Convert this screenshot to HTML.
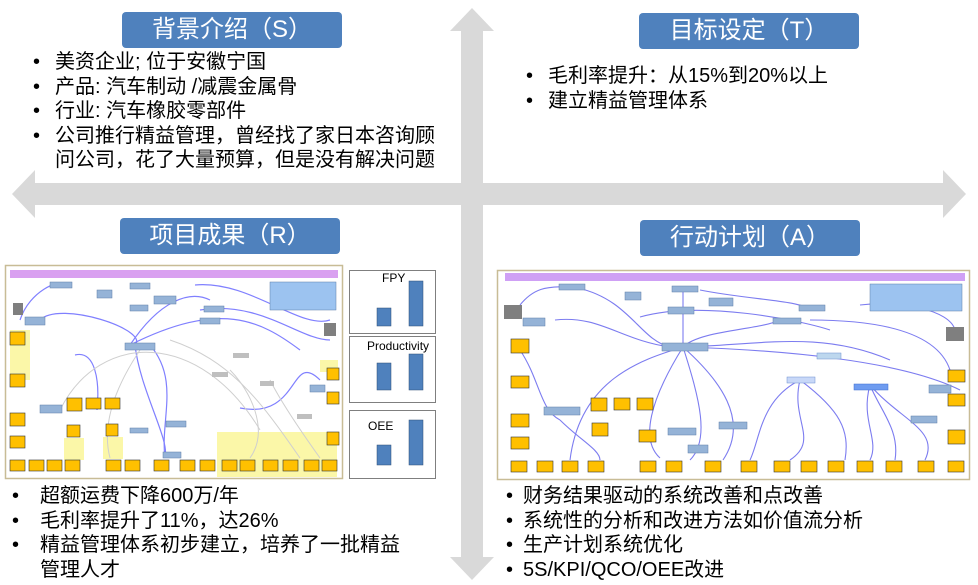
<!DOCTYPE html>
<html><head><meta charset="utf-8"><style>
body{margin:0;width:978px;height:585px;background:#fff;position:relative;overflow:hidden;font-family:"Liberation Sans","Noto Sans CJK SC",sans-serif;}
.t{position:absolute;background:#4f81bd;color:#fff;border-radius:4px;font-size:24px;text-align:center;line-height:36px;height:36px;width:220px;}
.b{position:absolute;font-size:20px;color:#000;line-height:24.5px;white-space:nowrap}
.b div{position:relative;padding-left:22px}
.b div:before{content:"•";position:absolute;left:0}
</style></head><body>
<svg width="978" height="585" style="position:absolute;left:0;top:0">
<polygon fill="#d9d9d9" points="472,8 494,31 483,31 483,183 943,183 943,170 966,194 943,218 943,205 483,205 483,557 494,557 472,580 450,557 461,557 461,205 35,205 35,218 12,194 35,170 35,183 461,183 461,31 450,31"/>
</svg>
<div class="t" style="left:122px;top:12px">背景介绍（S）</div>
<div class="t" style="left:639px;top:13px">目标设定（T）</div>
<div class="t" style="left:120px;top:218px">项目成果（R）</div>
<div class="t" style="left:640px;top:220px">行动计划（A）</div>
<div class="b" style="left:33px;top:50px"><div>美资企业; 位于安徽宁国</div><div>产品: 汽车制动 /减震金属骨</div><div>行业: 汽车橡胶零部件</div><div>公司推行精益管理，曾经找了家日本咨询顾<br>问公司，花了大量预算，但是没有解决问题</div></div>
<div class="b" style="left:526px;top:64px"><div>毛利率提升：从15%到20%以上</div><div>建立精益管理体系</div></div>
<div class="b" style="left:12px;top:484px"><div style="padding-left:28px">超额运费下降600万/年</div><div style="padding-left:28px">毛利率提升了11%，达26%</div><div style="padding-left:28px">精益管理体系初步建立，培养了一批精益<br>管理人才</div></div>
<div class="b" style="left:506px;top:484px"><div style="padding-left:17px">财务结果驱动的系统改善和点改善</div><div style="padding-left:17px">系统性的分析和改进方法如价值流分析</div><div style="padding-left:17px">生产计划系统优化</div><div style="padding-left:17px">5S/KPI/QCO/OEE改进</div></div>

<svg width="978" height="585" style="position:absolute;left:0;top:0" font-family="Liberation Sans">
<rect x="5.5" y="265.5" width="337" height="213" fill="#fff" stroke="#c8bc96" stroke-width="1.5"/>
<rect x="10" y="270" width="328" height="8" fill="#d9a0f0"/>
<rect x="10" y="330" width="20" height="50" fill="#fbf7a8"/>
<rect x="64" y="438" width="20" height="22" fill="#fbf7a8"/>
<rect x="103" y="437" width="20" height="22" fill="#fbf7a8"/>
<rect x="217" y="432" width="120" height="45" fill="#fbf7a8"/>
<rect x="320" y="360" width="18" height="12" fill="#fbf7a8"/>
<g fill="none" stroke="#8080ff" stroke-width="1.2">
<path d="M20 320 C30 290 60 280 60 285"/><path d="M130 345 C160 300 190 290 210 300"/><path d="M130 345 C220 300 260 320 300 350"/>
<path d="M40 320 C60 300 150 330 135 345"/><path d="M150 345 C180 380 160 420 165 458"/><path d="M75 355 C95 350 100 380 97 410"/>
<path d="M200 310 C260 300 300 340 330 340"/><path d="M320 380 C290 350 300 420 240 408"/><path d="M135 345 C140 390 170 440 165 457"/>
<path d="M195 285 C250 280 300 330 330 320"/>
</g>
<g fill="none" stroke="#cfcfcf" stroke-width="1">
<path d="M60 410 C100 330 200 330 260 430"/><path d="M170 340 C230 360 260 400 300 458"/><path d="M140 350 C120 380 100 420 110 458"/>
<path d="M230 370 C250 390 270 430 250 458"/><path d="M270 380 C280 400 300 430 320 458"/>
</g>
<g fill="#95b3d7" stroke="#5f7fa8" stroke-width="0.5">
<rect x="50" y="282" width="22" height="6"/><rect x="97" y="290" width="15" height="8"/><rect x="130" y="283" width="20" height="6"/>
<rect x="154" y="296" width="22" height="8"/><rect x="130" y="305" width="18" height="6"/><rect x="204" y="306" width="20" height="6"/>
<rect x="25" y="317" width="20" height="8"/><rect x="125" y="343" width="30" height="7"/><rect x="40" y="405" width="22" height="8"/>
<rect x="130" y="428" width="18" height="5"/><rect x="166" y="421" width="20" height="6"/><rect x="163" y="452" width="18" height="6"/>
<rect x="200" y="318" width="20" height="6"/><rect x="310" y="385" width="15" height="7"/>
</g>
<rect x="270" y="282" width="66" height="28" fill="#9cc3f0" stroke="#5f7fa8" stroke-width="0.5"/>
<g fill="#bfbfbf"><rect x="233" y="353" width="16" height="5"/><rect x="212" y="372" width="16" height="5"/><rect x="260" y="381" width="14" height="5"/><rect x="297" y="414" width="15" height="5"/></g>
<g fill="#7f7f7f"><rect x="13" y="303" width="10" height="12"/><rect x="324" y="323" width="12" height="13"/></g>
<g fill="#ffc000" stroke="#333" stroke-width="0.6">
<rect x="10" y="332" width="15" height="13"/><rect x="10" y="374" width="15" height="13"/><rect x="10" y="413" width="15" height="13"/><rect x="10" y="436" width="15" height="12"/>
<rect x="67" y="398" width="15" height="13"/><rect x="86" y="398" width="15" height="11"/><rect x="105" y="398" width="15" height="11"/>
<rect x="67" y="425" width="13" height="12"/><rect x="106" y="424" width="12" height="12"/><rect x="327" y="368" width="12" height="12"/><rect x="327" y="392" width="12" height="12"/><rect x="327" y="432" width="12" height="13"/>
<rect x="10" y="460" width="15" height="11"/><rect x="29" y="460" width="15" height="11"/><rect x="47" y="460" width="15" height="11"/><rect x="65" y="460" width="15" height="11"/>
<rect x="106" y="460" width="15" height="11"/><rect x="125" y="460" width="15" height="11"/><rect x="154" y="460" width="15" height="11"/><rect x="180" y="460" width="15" height="11"/>
<rect x="200" y="460" width="15" height="11"/><rect x="222" y="460" width="15" height="11"/><rect x="240" y="460" width="15" height="11"/><rect x="263" y="460" width="15" height="11"/>
<rect x="283" y="460" width="15" height="11"/><rect x="304" y="460" width="15" height="11"/><rect x="322" y="460" width="15" height="11"/>
</g>
<g stroke="#7f7f7f" fill="#fff"><rect x="349.5" y="270.5" width="86" height="63"/><rect x="349.5" y="336.5" width="86" height="66"/><rect x="349.5" y="410.5" width="86" height="68"/></g>
<g fill="#4f81bd" stroke="#2c4d75" stroke-width="0.5">
<rect x="377" y="308" width="14" height="18"/><rect x="409" y="281" width="14" height="45"/>
<rect x="377" y="363" width="14" height="27"/><rect x="409" y="354" width="14" height="36"/>
<rect x="377" y="445" width="14" height="20"/><rect x="409" y="420" width="14" height="45"/>
</g>
<g font-size="12"><text x="382" y="282">FPY</text><text x="367" y="350">Productivity</text><text x="368" y="430">OEE</text></g>
<rect x="497.5" y="270.5" width="472" height="209" fill="#fff" stroke="#c8bc96" stroke-width="1.5"/>
<rect x="505" y="273" width="460" height="8" fill="#cfa0f5"/>
<g fill="none" stroke="#7c7cf0" stroke-width="1.1">
<path d="M520 305 C540 280 560 290 575 285"/><path d="M578 288 C630 300 640 340 670 347"/><path d="M555 320 C600 315 620 340 670 347"/>
<path d="M683 288 L683 347"/><path d="M683 347 C640 360 580 380 570 460"/><path d="M683 347 C720 380 750 420 723 460"/>
<path d="M683 347 C700 330 760 330 780 320"/><path d="M683 347 C760 345 820 330 890 360"/><path d="M683 347 C780 350 900 360 960 390"/>
<path d="M800 380 C760 400 760 440 750 460"/><path d="M800 380 C790 420 820 440 790 460"/><path d="M800 380 C840 410 850 430 845 460"/>
<path d="M870 385 C860 420 880 440 870 460"/><path d="M870 385 C900 420 940 430 925 460"/><path d="M870 385 C880 410 900 430 895 460"/>
<path d="M520 350 C540 380 540 410 560 420"/><path d="M560 420 C580 440 600 450 600 460"/><path d="M640 317 C700 300 800 320 830 330"/>
<path d="M810 320 C900 320 940 340 950 370"/><path d="M860 305 C900 300 950 310 955 330"/><path d="M700 290 C750 300 800 300 810 310"/>
<path d="M683 347 C650 400 640 440 660 458"/><path d="M683 347 C700 400 710 440 690 460"/>
</g>
<g fill="#95b3d7" stroke="#5f7fa8" stroke-width="0.5">
<rect x="559" y="284" width="26" height="6"/><rect x="625" y="292" width="16" height="8"/><rect x="672" y="286" width="26" height="6"/>
<rect x="709" y="298" width="24" height="8"/><rect x="668" y="307" width="26" height="7"/><rect x="799" y="305" width="26" height="6"/>
<rect x="523" y="318" width="22" height="8"/><rect x="773" y="318" width="28" height="6"/><rect x="662" y="343" width="46" height="8"/>
<rect x="544" y="407" width="36" height="8"/><rect x="668" y="428" width="28" height="7"/><rect x="719" y="422" width="28" height="7"/>
<rect x="688" y="445" width="20" height="8"/><rect x="929" y="385" width="22" height="8"/><rect x="911" y="416" width="26" height="7"/>
</g>
<rect x="870" y="284" width="92" height="27" fill="#9cc3f0" stroke="#5f7fa8" stroke-width="0.5"/>
<rect x="817" y="353" width="24" height="6" fill="#bdd7ee" stroke="#6f8fd0" stroke-width="0.5"/>
<rect x="787" y="377" width="28" height="6" fill="#c8d8f8" stroke="#6f8fd0" stroke-width="0.5"/>
<rect x="854" y="384" width="34" height="6" fill="#6f9cf0" stroke="#3f6fd0" stroke-width="0.5"/>
<g fill="#7f7f7f"><rect x="504" y="305" width="18" height="14"/><rect x="946" y="327" width="18" height="14"/></g>
<g fill="#ffc000" stroke="#333" stroke-width="0.6">
<rect x="511" y="339" width="18" height="14"/><rect x="511" y="376" width="18" height="12"/><rect x="511" y="414" width="18" height="13"/><rect x="511" y="437" width="18" height="12"/>
<rect x="591" y="398" width="16" height="13"/><rect x="614" y="398" width="16" height="12"/><rect x="637" y="398" width="16" height="12"/><rect x="592" y="423" width="16" height="13"/>
<rect x="639" y="430" width="17" height="12"/><rect x="948" y="370" width="17" height="12"/><rect x="948" y="394" width="17" height="12"/><rect x="948" y="430" width="17" height="14"/>
<rect x="511" y="461" width="16" height="11"/><rect x="537" y="461" width="16" height="11"/><rect x="562" y="461" width="16" height="11"/><rect x="588" y="461" width="16" height="11"/>
<rect x="640" y="461" width="16" height="11"/><rect x="666" y="461" width="16" height="11"/><rect x="705" y="461" width="16" height="11"/><rect x="741" y="461" width="16" height="11"/>
<rect x="774" y="461" width="16" height="11"/><rect x="801" y="461" width="16" height="11"/><rect x="828" y="461" width="16" height="11"/><rect x="857" y="461" width="16" height="11"/>
<rect x="886" y="461" width="16" height="11"/><rect x="918" y="461" width="16" height="11"/><rect x="948" y="461" width="16" height="11"/>
</g>
</svg>
</body></html>
